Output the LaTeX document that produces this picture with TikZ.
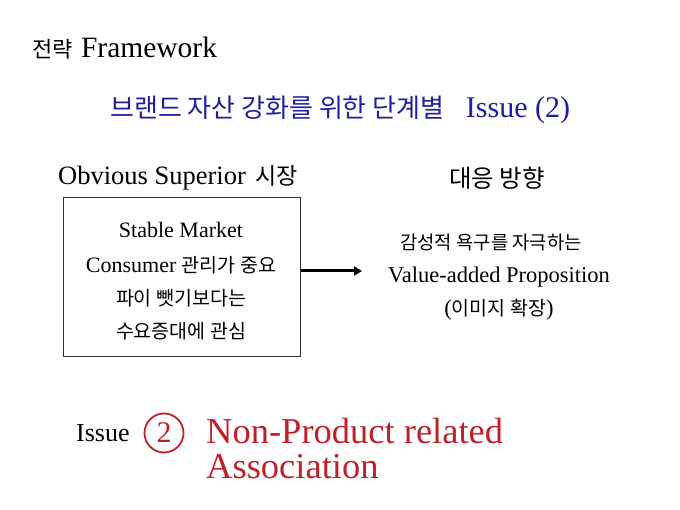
\documentclass[tikz,border=0pt]{standalone}
\usepackage{fontspec}
\usetikzlibrary{arrows.meta}
\setmainfont{Liberation Serif}
\newfontfamily\kr{Noto Sans CJK KR}
\newcommand{\KS}[2]{{\kr\fontsize{#1}{#1}\selectfont #2}}
\newcommand{\LS}[1]{\fontsize{#1}{#1}\selectfont}
\definecolor{titleblue}{HTML}{1F1F9F}
\definecolor{issuered}{HTML}{C0202A}
\definecolor{boxgray}{HTML}{333333}
\begin{document}
\begin{tikzpicture}[x=1pt,y=-1pt,
  lbl/.style={inner sep=0pt},
  conn/.style={-{Triangle[length=8pt,width=9pt]}, line width=3pt}]
\useasboundingbox[fill=white] (0,0) rectangle (680,510);
\node[lbl, anchor=west] (hdr) at (32,48) {\LS{29.5}\KS{22}{전략}\hspace{1pt} Framework};
\node[lbl, anchor=west, text=titleblue] (ttl) at (110,110) {\LS{30}\KS{26}{브랜드 자산 강화를 위한 단계별}\hspace{14pt} Issue (2)};
\node[lbl, anchor=west] (left) at (58,178) {\LS{26.5}Obvious Superior\hspace{3pt} \KS{23}{시장}};
\node[lbl] (right) at (497,178) {\KS{24.5}{대응 방향}};
\node[draw=boxgray, line width=1pt, minimum width=237pt, minimum height=159pt, inner sep=0pt] (box) at (181.5,277.5) {};
\node[lbl] (b1) at (181,230) {\LS{22}Stable Market};
\node[lbl] (b2) at (181,265) {\LS{22}Consumer \KS{19.5}{관리가 중요}};
\node[lbl] (b3) at (181,298) {\KS{19.5}{파이 뺏기보다는}};
\node[lbl] (b4) at (181,331) {\KS{19.5}{수요증대에 관심}};
\node[lbl] (r1) at (491,242) {\KS{18.8}{감성적 욕구를 자극하는}};
\node[lbl] (r2) at (499,277) {\LS{22.5}Value-added Proposition};
\node[lbl] (r3) at (499,310) {\LS{22.5}(\KS{19.5}{이미지 확장})};
\coordinate (aend) at (362,271);
\draw[conn] (box.east |- aend) -- (aend);
\node[lbl, anchor=west] (iss) at (76,433) {\LS{26}Issue};
\node[circle, draw=issuered, line width=1.8pt, minimum size=39pt, inner sep=0pt, text=issuered] (num) at (164,433) {\LS{30}2};
\node[lbl, anchor=north west, align=left, text=issuered, font=\fontsize{36.5}{35}\selectfont] (np) at (206,418) {Non-Product related\\Association};
\end{tikzpicture}
\end{document}
